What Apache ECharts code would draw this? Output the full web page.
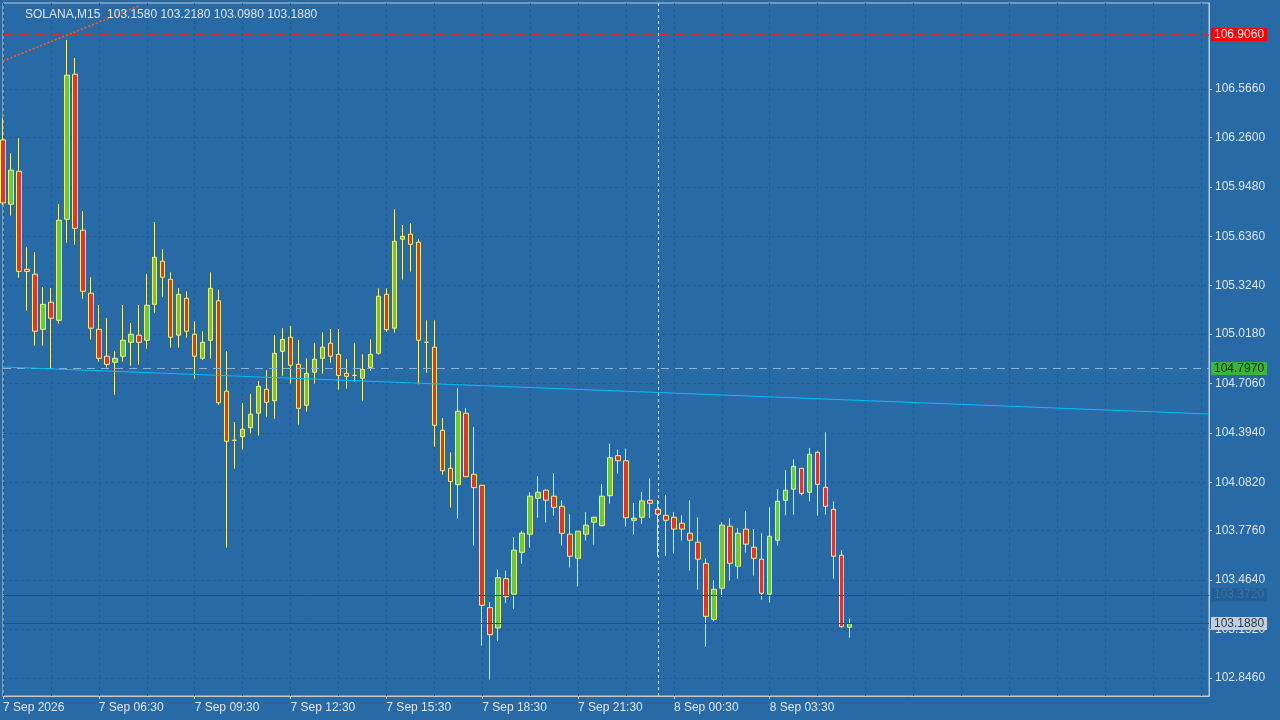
<!DOCTYPE html>
<html><head><meta charset="utf-8">
<script src="https://cdn.jsdelivr.net/npm/echarts@6/dist/echarts.min.js"></script>
<style>html,body{margin:0;padding:0;background:#286aa5}#c{width:1280px;height:720px}</style>
</head><body><div id="c"></div>
<script>
const open = [106.244,105.838,106.046,105.427,105.396,105.048,105.219,105.105,105.743,106.659,105.674,105.276,105.048,104.878,104.840,104.878,104.966,105.011,104.979,105.206,105.478,105.364,105.011,105.244,105.017,104.865,104.979,105.228,104.657,104.347,104.370,104.427,104.518,104.669,104.597,104.909,104.998,104.827,104.568,104.777,104.865,104.960,104.890,104.770,104.757,104.739,104.808,104.897,105.269,105.055,105.617,105.649,105.598,104.966,104.935,104.410,104.170,104.067,104.518,104.132,104.063,103.290,103.162,103.473,103.375,103.640,103.754,103.981,104.032,103.994,103.930,103.754,103.602,103.754,103.830,103.808,103.997,104.250,104.218,103.842,103.861,103.968,103.911,103.873,103.861,103.823,103.760,103.703,103.570,103.216,103.413,103.804,103.552,103.786,103.672,103.596,103.375,103.716,103.968,104.038,104.170,104.019,104.271,104.050,103.911,103.621,103.166];
const close = [105.846,106.053,105.414,105.414,105.036,105.206,105.118,105.737,106.653,105.686,105.288,105.055,104.865,104.827,104.865,104.979,105.017,104.966,105.200,105.503,105.377,104.998,105.269,105.036,104.878,104.966,105.307,104.584,104.341,104.347,104.417,104.512,104.688,104.587,104.896,104.984,104.821,104.549,104.770,104.859,104.935,104.878,104.757,104.751,104.757,104.795,104.890,105.257,105.046,105.604,105.635,105.585,104.979,104.966,104.442,104.155,104.086,104.530,104.117,104.048,103.305,103.120,103.479,103.360,103.653,103.760,103.994,104.019,103.969,103.924,103.760,103.615,103.773,103.811,103.861,103.994,104.237,104.218,103.858,103.855,103.964,103.949,103.880,103.842,103.786,103.786,103.716,103.596,103.235,103.406,103.811,103.570,103.760,103.691,103.602,103.381,103.741,103.962,104.032,104.183,104.012,104.259,104.069,103.930,103.615,103.170,103.188];
const low = [105.833,105.766,105.374,105.166,104.945,104.945,104.802,105.084,105.595,105.583,105.241,104.983,104.844,104.806,104.635,104.844,104.818,104.825,104.926,105.153,105.254,104.932,104.932,104.995,104.736,104.854,104.863,104.570,103.669,104.168,104.288,104.389,104.376,104.496,104.483,104.755,104.705,104.446,104.528,104.705,104.768,104.837,104.667,104.673,104.717,104.597,104.787,104.888,105.033,105.027,105.362,105.412,104.701,104.774,104.307,104.130,103.922,103.852,104.117,103.681,103.050,102.835,103.081,103.319,103.283,103.568,103.669,103.858,103.828,103.871,103.681,103.543,103.423,103.714,103.688,103.802,103.947,104.136,103.802,103.751,103.819,103.856,103.612,103.617,103.632,103.714,103.524,103.404,103.043,103.204,103.359,103.461,103.473,103.638,103.492,103.340,103.322,103.681,103.874,103.877,104.000,103.962,103.871,103.877,103.473,103.164,103.100];
const high = [106.383,106.160,106.255,105.566,105.535,105.315,105.309,105.840,106.876,106.762,105.795,105.377,105.202,105.120,104.909,105.202,105.088,105.202,105.398,105.726,105.554,105.408,105.309,105.288,105.099,105.036,105.408,105.298,104.911,104.462,104.583,104.640,104.722,104.790,105.011,105.055,105.069,104.981,104.865,104.960,105.029,105.050,105.050,104.859,104.960,104.890,104.985,105.307,105.307,105.806,105.707,105.720,105.617,105.105,105.105,104.488,104.271,104.676,104.551,104.431,104.065,103.323,103.531,103.523,103.735,103.776,104.019,104.120,104.038,104.139,103.968,103.880,103.773,103.893,103.861,104.070,104.326,104.288,104.295,103.951,104.021,104.107,103.970,104.002,103.893,103.873,103.968,103.861,103.602,103.463,103.830,103.855,103.792,103.899,103.786,103.760,103.924,104.038,104.158,104.227,104.170,104.299,104.278,104.398,103.962,103.653,103.222];
const yTickLabels = [106.566,106.260,105.948,105.636,105.324,105.018,104.706,104.394,104.082,103.776,103.464,103.152,102.846];
const xTickLabels = ["7 Sep 2026","7 Sep 06:30","7 Sep 09:30","7 Sep 12:30","7 Sep 15:30","7 Sep 18:30","7 Sep 21:30","8 Sep 00:30","8 Sep 03:30"];
const slotCount = 152;
const redLevel = 106.906, greenLevel = 104.797, darkLevel = 103.372, lastPrice = 103.188;
const trendStart = 104.810, trendEnd = 104.513;
const fiboStart = 106.743, fiboEnd = 107.09;
const crossIndex = 82;

const cats = [];
for (let i = 0; i < slotCount; i++) cats.push(String(i));
const data = open.map((o, i) => [o, close[i], low[i], high[i]]);
const font = 'Liberation Sans';
const rightLabel = (bg, fg, txt) => ({show: true, position: 'end', distance: 2, formatter: txt, backgroundColor: bg, color: fg, padding: [1, 3, 0, 3], fontSize: 12, fontFamily: font});

const chart = echarts.init(document.getElementById('c'));
chart.setOption({
  animation: false,
  backgroundColor: '#286aa5',
  title: {text: 'SOLANA,M15  103.1580 103.2180 103.0980 103.1880', left: 20, top: 4, textStyle: {color: '#dde4ec', fontSize: 12, fontWeight: 'normal', fontFamily: font}},
  grid: {left: 3, right: 71, top: 3, bottom: 24, show: true, borderColor: '#c8c8c8', borderWidth: 1},
  xAxis: {
    type: 'category', data: cats, boundaryGap: false,
    axisLine: {lineStyle: {color: '#c8c8c8'}},
    axisTick: {show: true, interval: i => i % 12 === 0 && i / 12 < xTickLabels.length, length: 3, lineStyle: {color: '#c8c8c8'}},
    axisLabel: {interval: 0, color: '#dde4ec', fontSize: 12, fontFamily: font, align: 'left', margin: 6,
      formatter: (v, i) => (i % 12 === 0 && xTickLabels[i / 12]) ? xTickLabels[i / 12] : ''},
    splitLine: {show: true, interval: 5, lineStyle: {color: '#215c92', type: [3, 3]}}
  },
  yAxis: {
    type: 'value', position: 'right', min: 102.732, max: 107.109, scale: true,
    axisLine: {show: true, lineStyle: {color: '#c8c8c8'}},
    axisTick: {show: true, customValues: yTickLabels, length: 3, lineStyle: {color: '#c8c8c8'}},
    axisLabel: {customValues: yTickLabels, color: '#dde4ec', fontSize: 12, fontFamily: font, margin: 6, formatter: v => v.toFixed(4)},
    splitLine: {show: true, lineStyle: {color: '#215c92', type: [3, 3]}}
  },
  series: [{
    type: 'candlestick', data: data, barWidth: 5,
    itemStyle: {color: '#6cc83c', color0: '#e0352b', borderColor: '#f0f07a', borderColor0: '#f0f07a', borderWidth: 1},
    markLine: {
      symbol: 'none', silent: true, animation: false,
      data: [
        {yAxis: darkLevel, lineStyle: {color: '#1c5385', type: 'solid', width: 1}, label: rightLabel('#225d94', '#3a72a8', darkLevel.toFixed(4))},
        {yAxis: lastPrice, lineStyle: {color: '#1c5385', type: 'solid', width: 1}, label: rightLabel('#c8ccd4', '#1c3a5c', lastPrice.toFixed(4))},
        {yAxis: greenLevel, lineStyle: {color: '#8fb0cf', type: [8, 6], width: 1}, label: rightLabel('#3cb43c', '#0b2a10', greenLevel.toFixed(4))},
        {yAxis: redLevel, lineStyle: {color: '#ff1a1a', type: [10, 6], width: 1.5}, label: rightLabel('#ff0000', '#f2f2f2', redLevel.toFixed(4))},
        {xAxis: crossIndex, lineStyle: {color: '#c8d8ea', type: [3, 3], width: 1}, label: {show: false}},
        [{coord: [0, trendStart], lineStyle: {color: '#00c0ff', type: 'solid', width: 1}, label: {show: false}}, {coord: [slotCount - 1, trendEnd]}],
        [{coord: [0, fiboStart], lineStyle: {color: '#ff5a1e', type: [2, 2], width: 1.5}, label: {show: false}}, {coord: [17, fiboEnd]}]
      ]
    }
  }]
});
</script></body></html>
